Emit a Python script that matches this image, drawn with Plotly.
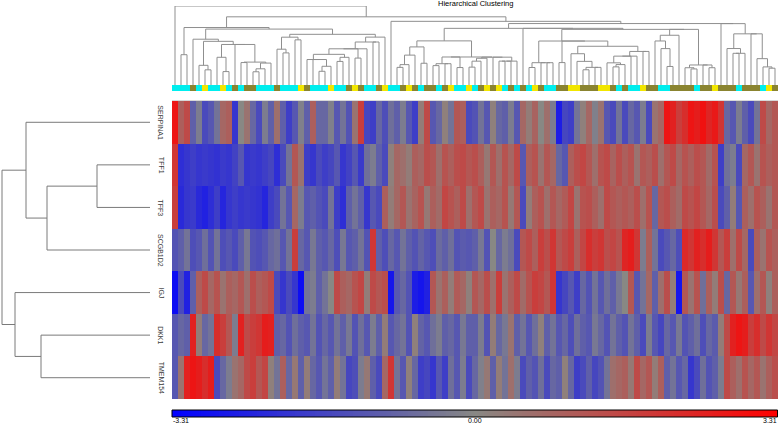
import numpy as np
import plotly.graph_objects as go

W, H = 778, 425

genes = ["SERPINA1", "TFF1", "TFF3", "SCGB1D2", "IGJ", "DKK1", "TMEM154"]

SERPINA1 = [2.8, 1.0, 1.5, -1.0, -0.3, -1.5, -1.2, -0.5, 0.8, 1.0, -2.0, 0.0, 0.5, -0.8, -1.5, -0.3, -1.0, 0.6, -1.0, -1.8, -1.2, -0.2, -1.0, 1.0, -0.8,
            -0.8, -0.2, -1.2, -0.5, -1.3, 0.5, 1.8, -1.6, -1.8, -0.8, -1.4, -0.6, -1.0, -0.3, -1.2, -1.8, 0.3, 1.5, -1.2, -0.8, 0.2, -0.5, 1.2, 1.0, -1.5,
            -1.3, -0.5, -1.2, 0.2, -0.8, -1.0, -0.3, -1.2, 0.8, 0.3, 0.9, 0.0, 0.6, -0.3, -2.6, -1.6, -1.8, -0.5, 0.2, 0.8, -0.2, 0.5, -1.2, -1.5, -0.5,
            -1.5, -0.8, -1.2, -0.3, -1.5, 0.5, 0.8, 2.8, 2.5, 1.8, 2.2, 2.8, 2.6, 2.9, 2.4, 2.7, 2.0, -0.8, -1.2, -0.3, -1.0, -1.5, -0.5, 1.5, 0.8, 1.2]
TFF1 = [2.0, -2.2, -2.0, -1.8, -2.0, -1.9, -2.0, -2.1, -1.9, -2.0, -1.7, -1.2, -2.0, -1.9, -2.0, -1.8, -1.6, -2.2, -1.5, -0.5, 1.2, 0.5, -1.8, -2.0, -1.5,
        -1.8, -1.6, -1.2, -2.0, -1.7, -1.2, -1.9, -0.6, -0.3, -1.0, -1.5, 0.2, 0.8, 0.6, 0.3, 1.0, 0.8, 1.4, 1.2, 0.6, 1.3, 1.0, 1.4, 1.5, 1.2,
        1.4, 1.0, 0.4, 1.2, 0.6, 1.3, 0.8, 1.5, -1.2, 1.0, 1.3, 0.5, 1.2, 0.8, -0.8, -1.2, 1.0, 1.4, 1.6, 1.2, 0.6, 1.3, 1.5, 0.9, 1.4,
        1.0, 1.3, 0.5, 1.2, 1.0, 1.4, 0.6, 1.2, 1.5, 0.8, 1.3, 1.0, 1.4, 1.2, 0.7, 1.3, -1.8, -0.6, -0.3, -1.5, 0.8, 1.2, 0.5, 1.3, 1.0, 1.2]
TFF3 = [1.8, -2.3, -2.0, -1.9, -2.3, -2.5, -2.2, -1.8, -2.4, -2.0, -1.8, -2.0, -1.9, -2.0, -2.1, -2.4, -1.8, -1.5, -0.5, -1.2, 0.8, -0.3, -1.2, -1.0, -1.3,
        -1.5, -0.5, -1.8, -2.2, -1.0, -0.5, -1.0, -2.0, -1.2, -1.5, 1.0, 0.3, 0.8, 1.2, 0.5, 0.9, 1.3, 0.4, 1.0, 0.7, 1.6, 1.3, 1.0, 1.5, 0.6,
        1.2, 1.5, 0.5, 1.0, 0.8, 1.3, 0.4, 1.2, -1.5, 0.3, 1.0, 1.3, 0.6, 1.2, 0.8, 1.1, 1.6, 0.5, 1.3, 1.4, 1.0, 0.6, 1.5, 1.2, 1.0,
        1.2, 1.0, 1.4, 0.6, 1.3, -0.8, 1.2, 1.4, 1.0, 0.7, 1.5, 1.3, 1.6, 1.2, 0.8, 1.4, -1.5, -1.0, 0.3, -1.2, 1.0, 0.6, 1.3, 1.0, 0.5, 1.2]
SCGB1D2 = [-1.3, -1.0, -0.5, -1.4, -1.2, -0.6, -1.3, -0.5, -1.4, -1.2, -1.5, -1.0, -0.4, -1.3, -1.4, -1.2, -0.8, -0.6, -1.2, -0.5, 1.8, -0.8, -1.2, -0.4, -1.0,
           -1.2, -0.8, -1.4, -0.4, -1.2, -1.0, -0.5, -1.3, 2.0, -1.0, -1.4, -0.8, -1.2, -0.5, -1.0, -1.3, -0.9, -1.2, -1.4, -0.7, -1.0, -0.6, -1.3, -1.1, -1.2,
           -1.0, -0.4, -1.3, 0.0, -0.8, -0.3, -0.6, -1.5, 1.2, 1.5, 1.0, 1.8, 1.4, 2.0, 1.2, 1.5, 1.8, 1.0, 1.6, 2.2, 1.8, 2.0, 1.4, 1.6, 1.3,
           2.4, 2.6, 2.0, -0.3, 1.0, -0.5, -1.5, -1.2, -0.8, -1.4, 2.3, 2.0, 2.5, 2.2, 2.6, 2.0, 1.2, 1.8, 0.6, 1.5, 0.8, -1.5, 1.0, 0.5, 1.3, 1.0]
IGJ = [-3.0, -1.5, -2.5, -1.0, 1.0, 1.5, 0.8, 1.3, 0.5, 1.0, 0.8, 1.2, 0.6, 1.4, 1.0, 1.2, 1.5, -1.5, -2.0, -1.5, -2.0, -3.0, -0.5, -0.3, -1.0,
       -0.5, 0.0, 1.5, 1.0, 0.8, 1.3, 1.6, 0.3, 1.5, 1.2, 1.4, -2.8, -1.2, -0.8, -1.3, -2.6, -2.8, -2.5, 1.2, 0.5, 1.0, 0.3, 1.1, 0.8, 0.2,
       1.2, 0.8, 1.4, 0.6, 1.8, 0.5, 1.0, 1.5, 0.7, 1.3, 1.8, 1.6, 1.2, 2.0, -2.0, -1.6, -1.2, -1.8, -0.8, -1.3, -0.5, -1.2, -0.6, -1.0, -0.4,
       0.0, 1.2, -1.2, -0.5, 0.8, -1.0, 0.6, 1.4, 0.3, -2.8, 1.2, 0.5, 1.3, -0.6, 1.0, 0.3, 1.4, -0.8, 1.2, 0.4, 1.0, -1.2, 0.6, 1.2, 0.2, 1.0]
DKK1 = [-1.2, -0.8, -1.0, 2.5, 0.3, -0.8, -0.5, 2.2, 1.8, 1.2, -0.3, 2.5, 1.5, 1.8, 2.0, 2.6, 2.5, -1.0, -0.8, -1.3, -0.6, -1.0, -1.2, -0.5, -1.3,
        -0.8, -1.2, -0.5, -1.0, -0.4, -1.3, -0.6, -1.2, -0.3, -1.0, 0.3, -1.2, -0.8, -0.5, -1.3, 0.2, -0.9, -1.2, -0.6, -0.3, -1.0, -0.8, -1.2, -0.4, -1.0,
        -1.0, -0.3, -1.3, 0.3, -0.8, -0.4, 0.5, -1.0, -0.5, -1.2, -0.6, 0.2, -1.0, -0.5, -1.2, -0.8, -1.4, -0.6, -1.0, -1.2, -0.4, -0.8, -1.3, -0.5, -1.0,
        -1.3, -0.5, -1.0, -1.5, -0.3, -1.2, -1.6, -0.8, -1.2, -0.4, -1.3, -1.0, -0.6, -1.4, -0.8, -1.1, 0.3, 1.5, 2.5, 2.8, 2.6, 1.8, 2.2, 1.5, 2.0, 1.6]
TMEM154 = [-1.2, 0.5, 2.5, 2.8, 2.6, 2.2, 2.6, -1.5, -0.8, -0.3, 0.5, 0.8, 1.5, 1.8, 1.2, 1.6, 0.2, -0.5, 1.0, -0.8, 0.4, -1.0, 0.3, -0.8, -1.2,
           -0.5, -1.0, 0.3, -0.5, -1.6, -1.4, -0.3, 0.4, -1.0, -1.5, 0.8, 2.0, -0.5, -1.2, 0.2, -0.8, -1.8, -1.6, -2.0, -1.2, -1.8, -0.6, -1.2, -0.3, -1.5,
           -0.8, -0.2, 0.4, -1.0, 0.3, -0.5, 0.6, -0.3, -1.5, -1.0, -1.3, -0.6, -1.5, -0.8, -1.0, 0.2, -0.8, -1.8, -1.5, -1.0, -1.6, -1.3, -0.5, 0.6, 0.8,
           1.0, 0.4, 1.5, 0.8, 1.2, 0.3, 1.0, -1.0, -0.5, -1.2, -0.8, -2.0, -1.5, -0.6, -1.3, -1.0, -0.3, 1.5, 1.0, 0.6, 1.3, 0.8, 1.2, 0.5, 1.0, 1.4]

# sample class strip (0 = cyan, 1 = yellow, 2 = olive)
sample_class = [0, 0, 0, 2, 0, 1, 0, 0, 1, 0, 2, 0, 2, 2, 0, 0, 0, 2, 0, 0, 0, 1, 2, 0, 0,
                0, 1, 0, 0, 2, 1, 2, 0, 0, 2, 1, 0, 0, 2, 1, 2, 0, 2, 2, 0, 2, 1, 0, 0, 1,
                0, 2, 1, 2, 1, 0, 2, 0, 2, 0, 1, 2, 0, 0, 2, 2, 1, 1, 2, 2, 2, 1, 1, 2, 0,
                2, 0, 0, 1, 2, 2, 0, 0, 2, 2, 2, 2, 0, 2, 2, 1, 2, 2, 2, 0, 2, 2, 2, 0, 1, 2]

# row dendrogram: (left node, right node, height); leaves 0..6, internal nodes 7..
row_links = [(1, 2, 53), (7, 3, 103), (0, 8, 124), (5, 6, 109), (4, 10, 135), (9, 11, 148)]

zlim = 3.31
tick_values = [-3.31, 0.0, 3.31]
tick_labels = ["-3.31", "0.00", "3.31"]

rows = [SERPINA1, TFF1, TFF3, SCGB1D2, IGJ, DKK1, TMEM154]
Z = np.array(rows, dtype=float)
nr, nc = Z.shape
assert all(len(r) == nc for r in rows) and len(sample_class) == nc

# ---------- column dendrogram (order-preserving average-linkage) ----------
C = Z.T
D = np.sqrt(((C[:, None, :] - C[None, :, :]) ** 2).sum(-1))
members = [[i] for i in range(nc)]
xs = [float(i) for i in range(nc)]
hs = [0.0] * nc
tx, ty = [], []
while len(members) > 1:
    best = None
    for j in range(len(members) - 1):
        d = D[np.ix_(members[j], members[j + 1])].mean()
        if best is None or d < best[0]:
            best = (d, j)
    d, j = best
    h = max(d, hs[j], hs[j + 1])
    tx += [xs[j], xs[j], xs[j + 1], xs[j + 1], None]
    ty += [hs[j], h, h, hs[j + 1], None]
    members[j:j + 2] = [members[j] + members[j + 1]]
    xs[j:j + 2] = [(xs[j] + xs[j + 1]) / 2]
    hs[j:j + 2] = [h]
root_h = hs[0]

# ---------- row dendrogram ----------
ny = {i: float(i) for i in range(nr)}
nh = {i: 0.0 for i in range(nr)}
rx, ry = [], []
for k, (a, b, h) in enumerate(row_links):
    rx += [nh[a], h, h, nh[b], None]
    ry += [ny[a], ny[a], ny[b], ny[b], None]
    nid = nr + k
    ny[nid] = (ny[a] + ny[b]) / 2
    nh[nid] = h

# ---------- layout geometry (pixels) ----------
hm_l, hm_r, hm_t, hm_b = 172, 778, 101, 399
cb_t, cb_b = 410, 417
def fx(p): return p / W
def fy(p): return 1 - p / H

colorscale = [[0.0, "#0000FF"], [0.5, "#888884"], [1.0, "#FF0000"]]
font = "Liberation Sans, Arial, sans-serif"

# colour-key gradient (legend, spans the value scale)
key_vals = np.linspace(-zlim, zlim, 241)

fig = go.Figure()
fig.add_trace(go.Heatmap(
    z=Z, x=list(range(nc)), y=list(range(nr)), zmin=-zlim, zmax=zlim,
    colorscale=colorscale, xaxis="x", yaxis="y", hoverinfo="skip", showscale=False))
fig.add_trace(go.Scatter(x=rx, y=ry, mode="lines", xaxis="x2", yaxis="y2",
                         line=dict(color="#7a7a7a", width=1), hoverinfo="skip", showlegend=False))
fig.add_trace(go.Scatter(x=tx, y=ty, mode="lines", xaxis="x3", yaxis="y3",
                         line=dict(color="#8f8f8f", width=1), hoverinfo="skip", showlegend=False))
fig.add_trace(go.Heatmap(
    z=[sample_class], x=list(range(nc)), y=[0], zmin=0, zmax=2,
    colorscale=[[0, "#00EEEE"], [0.33, "#00EEEE"], [0.33, "#F2E600"], [0.66, "#F2E600"],
                [0.66, "#8A8430"], [1, "#8A8430"]],
    showscale=False, xaxis="x4", yaxis="y4", hoverinfo="skip"))
fig.add_trace(go.Heatmap(
    z=[key_vals], x=key_vals, y=[0], zmin=-zlim, zmax=zlim, colorscale=colorscale,
    showscale=False, xaxis="x5", yaxis="y5", hoverinfo="skip"))

hx = [fx(hm_l), fx(hm_r)]
hy = [fy(hm_b), fy(hm_t)]
ax_off = dict(visible=False, showgrid=False, zeroline=False, fixedrange=True)
fig.update_layout(
    width=W, height=H, margin=dict(l=0, r=0, t=0, b=0),
    paper_bgcolor="white", plot_bgcolor="white", showlegend=False,
    xaxis=dict(domain=hx, range=[-0.5, nc - 0.5], anchor="y", **ax_off),
    yaxis=dict(domain=hy, range=[nr - 0.5, -0.5], anchor="x", **ax_off),
    xaxis2=dict(domain=[0, fx(150)], range=[150, 0], anchor="y2", **ax_off),
    yaxis2=dict(domain=hy, range=[nr - 0.5, -0.5], anchor="x2", **ax_off),
    xaxis3=dict(domain=hx, range=[-0.5, nc - 0.5], anchor="y3", **ax_off),
    yaxis3=dict(domain=[fy(85), fy(6)], range=[0, root_h], anchor="x3", **ax_off),
    xaxis4=dict(domain=hx, range=[-0.5, nc - 0.5], anchor="y4", **ax_off),
    yaxis4=dict(domain=[fy(91), fy(85)], range=[-0.5, 0.5], anchor="x4", **ax_off),
    xaxis5=dict(domain=hx, range=[-zlim, zlim], anchor="y5", **ax_off),
    yaxis5=dict(domain=[fy(cb_b), fy(cb_t)], range=[-0.5, 0.5], anchor="x5", **ax_off),
)

shapes = [dict(type="rect", xref="paper", yref="paper", x0=fx(hm_l), x1=fx(hm_r) - 0.0006,
               y0=fy(cb_b), y1=fy(cb_t), line=dict(color="black", width=1)),
          dict(type="line", xref="paper", yref="paper", x0=fx(hm_l), x1=1,
               y0=fy(hm_t - 0.5), y1=fy(hm_t - 0.5), line=dict(color="#d8d8d8", width=1))]
fig.update_layout(shapes=shapes)

ann = []
for i, g in enumerate(genes):
    ann.append(dict(x=fx(161), y=i, xref="paper", yref="y", text=g, showarrow=False,
                    textangle=90, font=dict(family=font, size=7, color="#3a3a3a"),
                    xanchor="center", yanchor="middle"))
ann.append(dict(x=fx(475), y=fy(4), xref="paper", yref="paper", text="Hierarchical Clustering",
                showarrow=False, font=dict(family=font, size=7.5, color="black"),
                xanchor="center", yanchor="middle"))
for lab, v, anc in zip(tick_labels, tick_values, ["left", "center", "right"]):
    ann.append(dict(x=v, y=fy(420.5), xref="x5", yref="paper", text=lab, showarrow=False,
                    borderpad=0, font=dict(family=font, size=7, color="black"),
                    xanchor=anc, yanchor="middle"))
fig.update_layout(annotations=ann)

fig.write_html("out.html", config={"displayModeBar": False},
               post_script="document.body.style.margin='0px';document.body.style.overflow='hidden';")
